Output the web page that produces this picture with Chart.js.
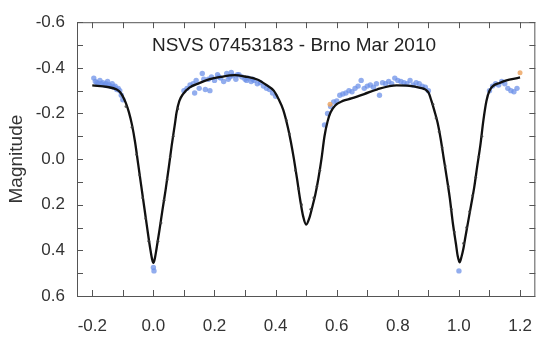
<!DOCTYPE html>
<html>
<head>
<meta charset="utf-8">
<script src="https://cdn.jsdelivr.net/npm/chart.js@4.4.0/dist/chart.umd.min.js"></script>
<style>
  html, body { margin: 0; padding: 0; background: #fff; }
  #wrap { width: 552px; height: 341px; }
</style>
</head>
<body>
<div id="wrap"><canvas id="lcChart" width="552" height="341"></canvas></div>
<script>
// model light curve (phase, magnitude)
const modelPhase = [-0.2, -0.15, -0.12, -0.11, -0.1, -0.09, -0.08, -0.07, -0.06, -0.05, -0.04, -0.03, -0.02, -0.01, -0.004, 0.0,
  0.004, 0.01, 0.02, 0.03, 0.04, 0.05, 0.06, 0.07, 0.076, 0.085, 0.097, 0.118, 0.15, 0.182, 0.22, 0.267, 0.3, 0.34, 0.37, 0.394, 0.41, 0.425,
  0.44, 0.45, 0.46, 0.47, 0.48, 0.49, 0.5, 0.51, 0.52, 0.53, 0.54, 0.55, 0.56, 0.57, 0.58, 0.595, 0.62, 0.648, 0.69, 0.733, 0.796, 0.83, 0.87,
  0.9, 0.91, 0.92, 0.93, 0.94, 0.95, 0.96, 0.97, 0.98, 0.99, 0.996, 1.002, 1.008, 1.015, 1.02, 1.03, 1.04, 1.05, 1.06, 1.07, 1.08, 1.09,
  1.1, 1.135, 1.2];
const modelMag = [-0.323, -0.316, -0.305, -0.295, -0.275, -0.245, -0.205, -0.15, -0.075, 0.02, 0.115, 0.21, 0.305, 0.395, 0.44, 0.455,
  0.44, 0.395, 0.31, 0.22, 0.135, 0.04, -0.06, -0.15, -0.205, -0.255, -0.285, -0.313, -0.333, -0.349, -0.36, -0.368, -0.362, -0.349, -0.325, -0.3, -0.262, -0.216,
  -0.14, -0.075, 0.0, 0.085, 0.175, 0.25, 0.287, 0.26, 0.21, 0.155, 0.085, 0.0, -0.1, -0.165, -0.205, -0.235, -0.255, -0.266, -0.285, -0.306, -0.323, -0.322, -0.313,
  -0.292, -0.255, -0.21, -0.16, -0.09, -0.005, 0.08, 0.17, 0.28, 0.37, 0.425, 0.452, 0.43, 0.39, 0.35, 0.275, 0.2, 0.124, 0.03, -0.06, -0.17, -0.255,
  -0.3, -0.335, -0.358];

// observations (blue)
const obsPhase = [-0.195, -0.19, -0.185, -0.18, -0.175, -0.17, -0.165, -0.16, -0.155, -0.15, -0.145, -0.14, -0.135, -0.13, -0.125, -0.12, -0.115, -0.11, -0.105, -0.1,
  0.1, 0.11, 0.12, 0.13, 0.135, 0.14, 0.15, 0.16, 0.165, 0.17, 0.18, 0.185, 0.19, 0.2, 0.21, 0.215, 0.22, 0.23, 0.24, 0.245, 0.25, 0.255, 0.26, 0.27, 0.275,
  0.28, 0.29, 0.3, 0.305, 0.31, 0.32, 0.325, 0.33, 0.34, 0.35, 0.36, 0.37, 0.38, 0.39, 0.4,
  0.56, 0.57, 0.58, 0.59, 0.6, 0.61, 0.62, 0.63, 0.64, 0.65, 0.66, 0.67, 0.68, 0.69, 0.7, 0.71, 0.72, 0.73, 0.74, 0.75, 0.76, 0.77, 0.78, 0.79, 0.8,
  0.81, 0.82, 0.83, 0.84, 0.85, 0.86, 0.87, 0.88, 0.89, 0.9,
  1.1, 1.11, 1.12, 1.13, 1.14, 1.15, 1.16, 1.17, 1.18, 1.19,
  0.0, 0.002, 1.0];
const obsMag = [-0.355, -0.34, -0.335, -0.33, -0.345, -0.33, -0.335, -0.325, -0.33, -0.34, -0.325, -0.32, -0.33, -0.315, -0.32, -0.305, -0.31, -0.3, -0.28, -0.26,
  -0.3, -0.31, -0.325, -0.33, -0.29, -0.345, -0.31, -0.375, -0.35, -0.305, -0.35, -0.3, -0.36, -0.345, -0.37, -0.36, -0.355, -0.34, -0.375, -0.35, -0.36, -0.38, -0.365, -0.35, -0.37,
  -0.37, -0.36, -0.35, -0.345, -0.355, -0.34, -0.35, -0.345, -0.33, -0.335, -0.32, -0.31, -0.305, -0.29, -0.275,
  -0.15, -0.2, -0.23, -0.25, -0.255, -0.28, -0.285, -0.29, -0.3, -0.295, -0.31, -0.32, -0.345, -0.31, -0.32, -0.325, -0.315, -0.33, -0.28, -0.335, -0.33, -0.34, -0.33, -0.355, -0.345,
  -0.34, -0.335, -0.33, -0.345, -0.325, -0.335, -0.33, -0.32, -0.315, -0.3,
  -0.3, -0.32, -0.33, -0.325, -0.34, -0.33, -0.31, -0.3, -0.295, -0.31,
  0.475, 0.49, 0.49];

// dark points on eclipse branches
const darkPhase = [-0.09, -0.07, -0.055, -0.045, -0.035, -0.025, -0.015, 0.015, 0.025, 0.035, 0.045, 0.055, 0.065, 0.08,
  0.435, 0.445, 0.465, 0.475, 0.485, 0.515, 0.525, 0.535, 0.545,
  0.915, 0.925, 0.935, 0.945, 0.955, 0.965, 0.975, 0.985, 1.015, 1.025, 1.035, 1.045, 1.055, 1.065, 1.075];
const darkMag = [-0.23, -0.14, -0.02, 0.07, 0.17, 0.26, 0.36, 0.36, 0.28, 0.18, 0.09, -0.01, -0.1, -0.22,
  -0.17, -0.11, 0.05, 0.13, 0.2, 0.22, 0.17, 0.12, 0.05,
  -0.24, -0.18, -0.12, -0.05, 0.03, 0.12, 0.22, 0.32, 0.37, 0.3, 0.23, 0.16, 0.08, -0.01, -0.1];

// odd coloured points
const orangePhase = [1.2, 0.578];
const orangeMag = [-0.378, -0.24];

const xTicks = [-0.2, 0.0, 0.2, 0.4, 0.6, 0.8, 1.0, 1.2];
const yTicks = [-0.6, -0.4, -0.2, 0.0, 0.2, 0.4, 0.6];
const chartTitle = 'NSVS 07453183 - Brno Mar 2010';

function pts(xs, ys) {
  return xs.map((x, i) => ({ x: x, y: ys[i] }));
}

function setTicks(list) {
  return (s) => { s.ticks = list.map(v => ({ value: v })); };
}
function fixLabels(s) {
  s.ticks.forEach(t => { t.label = t.value.toFixed(1); });
}

const FONT = '"Liberation Sans", Arial, sans-serif';

// inward ticks on all four sides + frame + inner title
const framePlugin = {
  id: 'frame',
  afterDraw(chart) {
    const { ctx, chartArea: a, scales } = chart;
    const xs = scales.x, ys = scales.y;
    ctx.save();
    ctx.strokeStyle = '#555';
    ctx.lineWidth = 1;
    ctx.strokeRect(a.left + 0.5, a.top + 0.5, a.right - a.left - 1, a.bottom - a.top);
    ctx.beginPath();
    for (let v = -0.2; v <= 1.21; v += 0.1) {
      const px = Math.round(xs.getPixelForValue(v)) + 0.5;
      ctx.moveTo(px, a.bottom); ctx.lineTo(px, a.bottom - 6);
      ctx.moveTo(px, a.top); ctx.lineTo(px, a.top + 6);
    }
    for (let v = -0.6; v <= 0.61; v += 0.1) {
      const py = Math.round(ys.getPixelForValue(v)) + 0.5;
      ctx.moveTo(a.left, py); ctx.lineTo(a.left + 6, py);
      ctx.moveTo(a.right, py); ctx.lineTo(a.right - 6, py);
    }
    ctx.stroke();
    ctx.fillStyle = '#222';
    ctx.font = '19px ' + FONT;
    ctx.textAlign = 'center';
    ctx.textBaseline = 'middle';
    ctx.fillText(chartTitle, 294, 46);
    ctx.restore();
  }
};

const ctx = document.getElementById('lcChart').getContext('2d');

const lcChart = new Chart(ctx, {
  type: 'scatter',
  data: {
    datasets: [
      {
        label: 'obs',
        data: pts(obsPhase, obsMag),
        backgroundColor: 'rgba(110, 145, 232, 0.75)',
        borderWidth: 0,
        pointRadius: 2.7,
        order: 3
      },
      {
        label: 'odd',
        data: pts(orangePhase, orangeMag),
        backgroundColor: 'rgba(235, 160, 90, 0.8)',
        borderWidth: 0,
        pointRadius: 2.5,
        order: 2
      },
      {
        label: 'model',
        data: pts(modelPhase, modelMag),
        showLine: true,
        borderColor: '#111',
        borderWidth: 2.3,
        pointRadius: 0,
        cubicInterpolationMode: 'monotone',
        order: 1
      },
      {
        label: 'dark',
        data: pts(darkPhase, darkMag),
        backgroundColor: 'rgba(60, 60, 60, 0.8)',
        borderWidth: 0,
        pointRadius: 1.4,
        order: 0
      }
    ]
  },
  options: {
    responsive: false,
    animation: false,
    layout: { padding: { top: 13, right: 1, left: 0, bottom: 0 } },
    plugins: {
      legend: { display: false },
      tooltip: { enabled: false }
    },
    scales: {
      x: {
        type: 'linear',
        min: -0.25,
        max: 1.25,
        afterBuildTicks: setTicks(xTicks),
        afterTickToLabelConversion: fixLabels,
        afterFit: (s) => { s.height = 45; },
        grid: { display: false, drawTicks: false },
        border: { display: false },
        ticks: {
          padding: 20,
          color: '#333',
          font: { family: FONT, size: 17 }
        }
      },
      y: {
        reverse: true,
        min: -0.6,
        max: 0.6,
        afterBuildTicks: setTicks(yTicks),
        afterTickToLabelConversion: fixLabels,
        afterFit: (s) => { s.width = 77; },
        grid: { display: false, drawTicks: false },
        border: { display: false },
        title: {
          display: true,
          text: 'Magnitude',
          color: '#333',
          font: { family: FONT, size: 19 },
          padding: { top: 5, bottom: 0 }
        },
        ticks: {
          padding: 12,
          color: '#333',
          font: { family: FONT, size: 17 }
        }
      }
    }
  },
  plugins: [framePlugin]
});
</script>
</body>
</html>
